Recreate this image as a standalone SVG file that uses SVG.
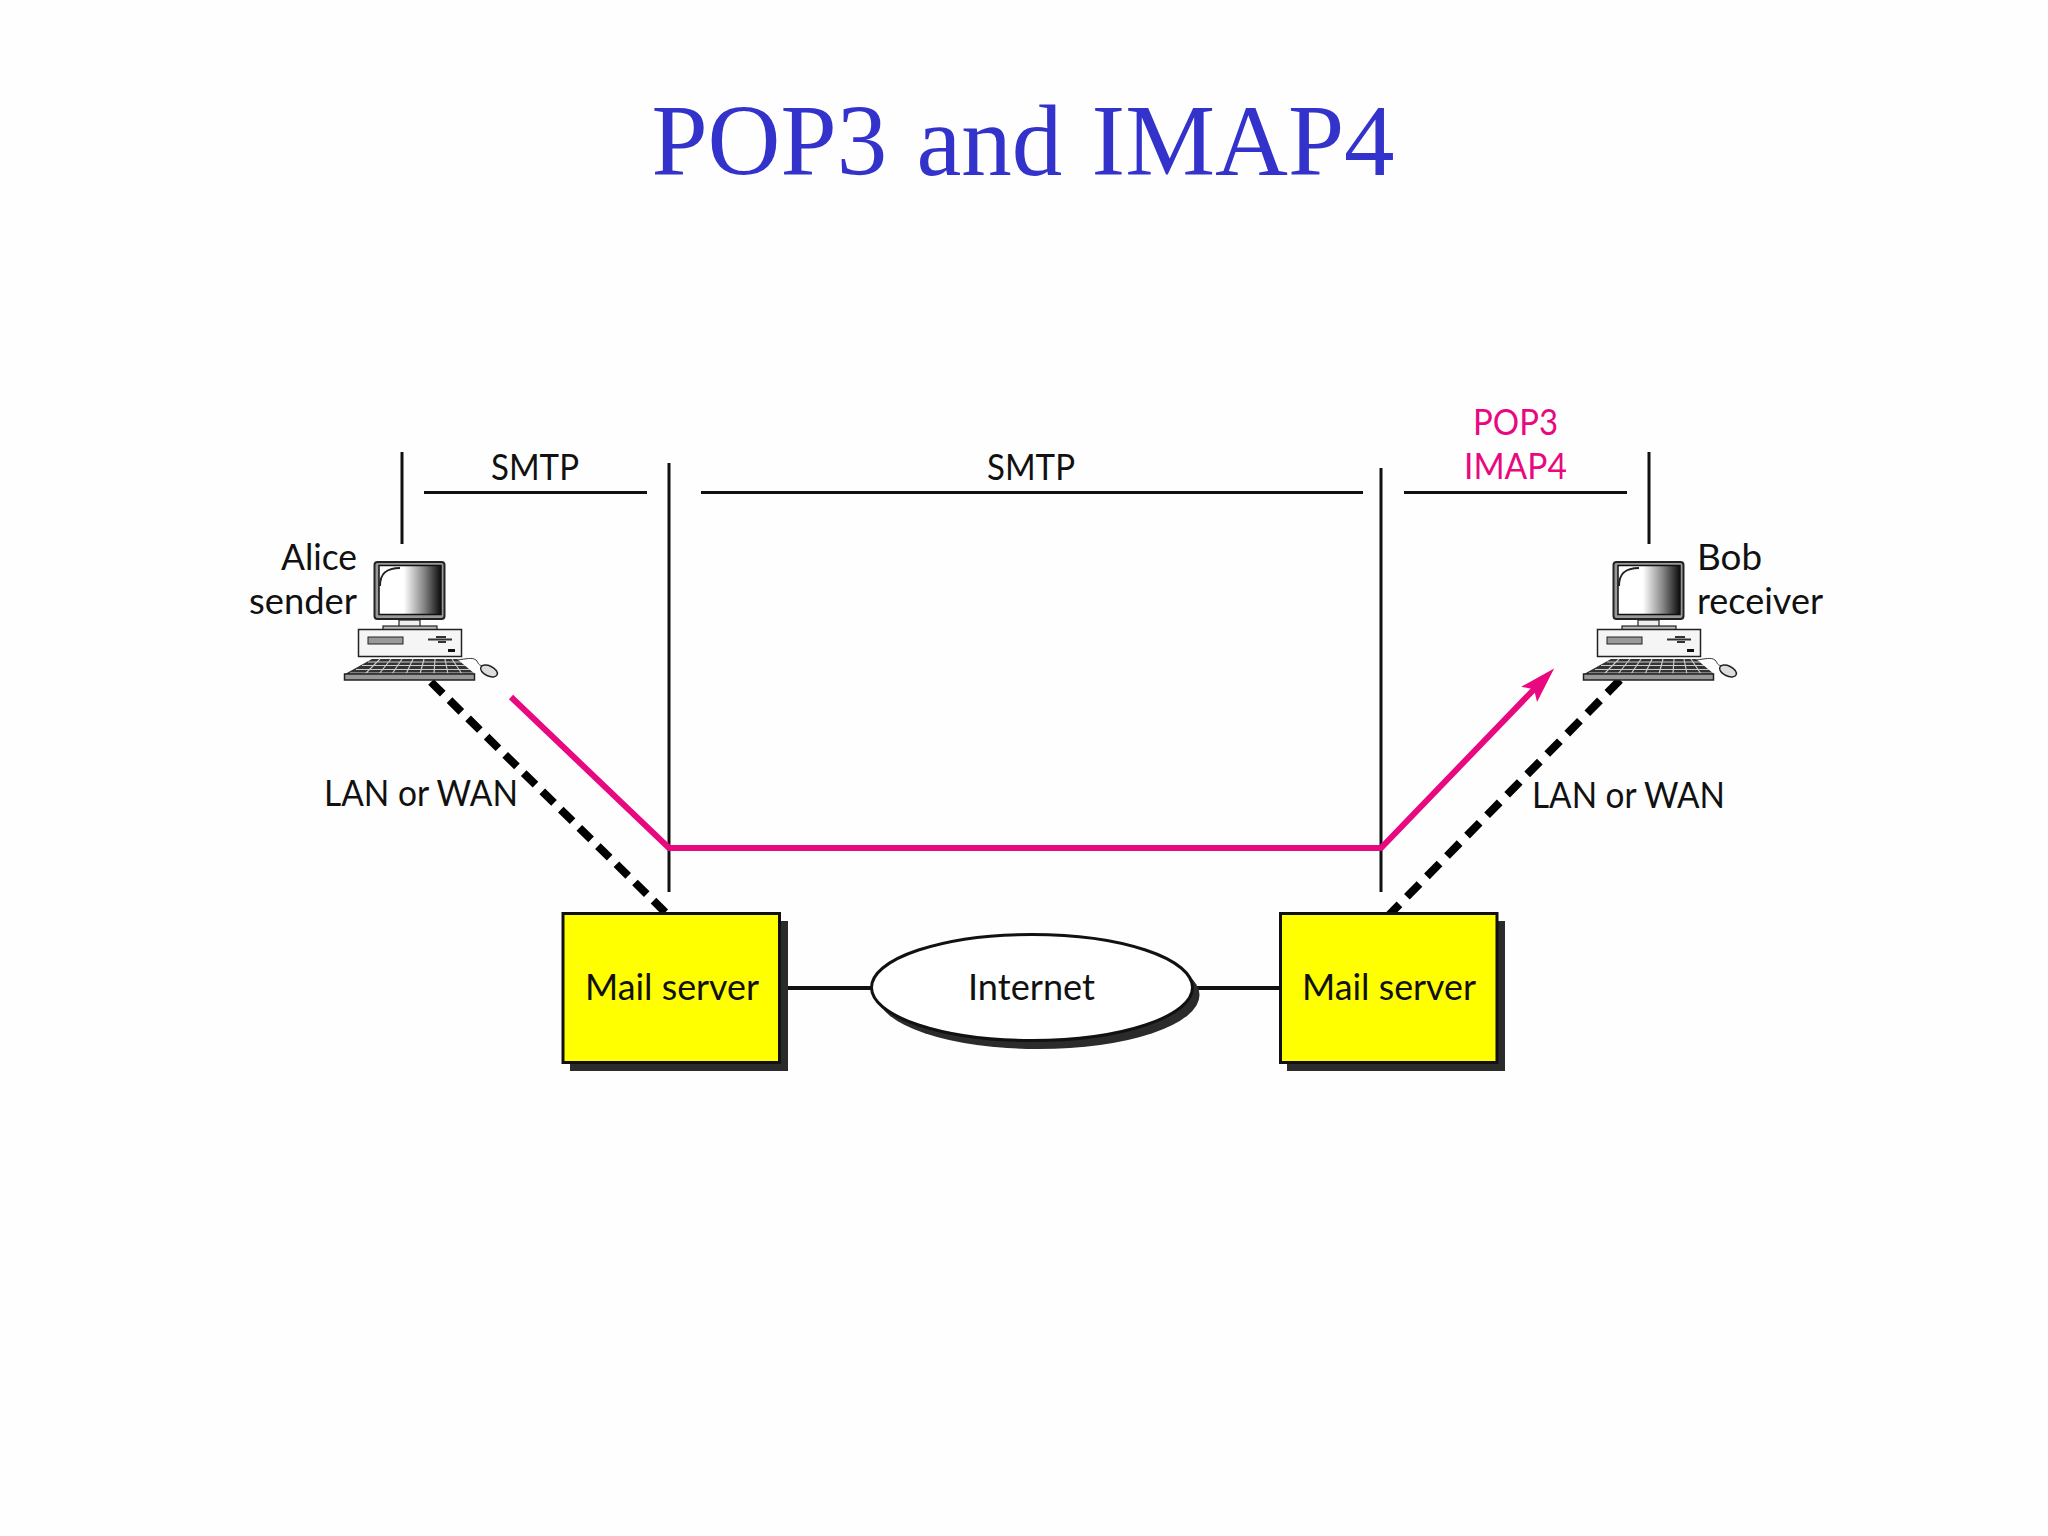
<svg xmlns="http://www.w3.org/2000/svg" width="2048" height="1536" viewBox="0 0 2048 1536">
<style>
text{font-family:Lato,"Noto Sans",sans-serif;font-size:36px;fill:#111}
.title{font-family:"Liberation Serif",serif;font-size:101px;word-spacing:4px;fill:#3333cc}
.pink{fill:#e8087f}
.thin{stroke:#111;stroke-width:3;fill:none}
.lan{stroke:#000;stroke-width:8;fill:none}
.mail{stroke:#e8087f;stroke-width:6;fill:none}
.link{stroke:#111;stroke-width:4;fill:none}
.shade{fill:#2b2b2b}
.box{fill:#ffff00;stroke:#111;stroke-width:3}
</style>
<defs>
<linearGradient id="screen" x1="0" x2="1" y1="0" y2="0">
<stop offset="0" stop-color="#fff"/><stop offset="0.4" stop-color="#fff"/><stop offset="0.72" stop-color="#888"/><stop offset="1" stop-color="#0c0c0c"/>
</linearGradient>
<marker id="arrow" markerUnits="userSpaceOnUse" markerWidth="40" markerHeight="30" refX="20" refY="15" orient="auto">
<path d="M36,15 L0,4 L7,15 L0,26 Z" fill="#e8087f"/>
</marker>
<g id="pc">
<rect x="374.500" y="562" width="70" height="57" rx="3" fill="#999" stroke="#222" stroke-width="2"/>
<rect x="379" y="565.500" width="62" height="49" fill="url(#screen)" stroke="#111" stroke-width="1.500"/>
<path d="M400,568 C388,568 380,572 380,586" fill="none" stroke="#222" stroke-width="2"/>
<rect x="399" y="620" width="21" height="7" fill="#eee" stroke="#222" stroke-width="1.200"/>
<rect x="383" y="626" width="54" height="4" fill="#bbb" stroke="#222" stroke-width="1.200"/>
<rect x="358.500" y="629.500" width="103" height="27" fill="#f5f5f5" stroke="#222" stroke-width="1.500"/>
<rect x="368" y="637" width="35" height="7" fill="#999" stroke="#222" stroke-width="1"/>
<path d="M428,639.500 H452 M436,637 H446 M438,642 H446" stroke="#333" stroke-width="2" fill="none"/>
<rect x="448" y="649" width="7" height="3" fill="#111"/>
<path d="M372,659 H457 L475,674 H345 Z" fill="#333"/>
<path d="M368,662 H461 M362,665.500 H465 M356,669.500 H470 M350,673 H474 M380,659 L365,674 M391,659 L379,674 M402,659 L392,674 M413,659 L406,674 M424,659 L420,674 M435,659 L434,674 M445,659 L448,674 M452,659 L462,674" stroke="#ccc" stroke-width="1.200" fill="none"/>
<rect x="344.500" y="674" width="130" height="6" fill="#999" stroke="#222" stroke-width="1.500"/>
<path d="M457,660 C466,659 472,657 476,660 C479,663 477,664 482,666" fill="none" stroke="#333" stroke-width="1"/>
<ellipse cx="489" cy="671" rx="9" ry="5" transform="rotate(25 489 671)" fill="#ddd" stroke="#222" stroke-width="1.500"/>
</g>
</defs>
<rect width="2048" height="1536" fill="#fefefe"/>
<text class="title" x="1023" y="175" text-anchor="middle">POP3 and IMAP4</text>
<g id="connectors">
<path class="thin" d="M402,452 V544 M669,463 V892 M1381,468 V892 M1649,452 V544 M424,492.500 H647 M701,492.500 H1363 M1404,492.500 H1627"/>
<path class="lan" stroke-dasharray="16.500 9.500" d="M431,682 L666,913"/>
<path class="lan" stroke-dasharray="18 10.600" d="M1620,680 L1388,916"/>
<path class="link" d="M788,988 H871 M1196,988 H1280"/>
<path class="mail" d="M511,697 L669,848 H1381 L1543,680" marker-end="url(#arrow)"/>
</g>
<g id="alice">
<use href="#pc"/>
<text x="357" y="570" text-anchor="end" textLength="76" lengthAdjust="spacingAndGlyphs">Alice</text>
<text x="357" y="614" text-anchor="end" textLength="108" lengthAdjust="spacingAndGlyphs">sender</text>
</g>
<g id="bob">
<use href="#pc" x="1239"/>
<text x="1697" y="570" textLength="65" lengthAdjust="spacingAndGlyphs">Bob</text>
<text x="1697" y="614" textLength="126" lengthAdjust="spacingAndGlyphs">receiver</text>
</g>
<g id="mail-server-left">
<rect class="shade" x="570" y="921" width="218" height="150"/>
<rect class="box" x="563" y="913.500" width="216.500" height="149"/>
<text x="585" y="1000" textLength="174" lengthAdjust="spacingAndGlyphs">Mail server</text>
</g>
<g id="internet">
<ellipse class="shade" cx="1038.500" cy="995" rx="161" ry="54"/>
<ellipse cx="1032" cy="987.500" rx="160.500" ry="53" fill="#fff" stroke="#111" stroke-width="3"/>
<text x="968" y="1000" textLength="127" lengthAdjust="spacingAndGlyphs">Internet</text>
</g>
<g id="mail-server-right">
<rect class="shade" x="1287" y="921" width="218" height="150"/>
<rect class="box" x="1280.500" y="913.500" width="216.500" height="149"/>
<text x="1302" y="1000" textLength="174" lengthAdjust="spacingAndGlyphs">Mail server</text>
</g>
<g id="labels">
<text x="491" y="480" textLength="88" lengthAdjust="spacingAndGlyphs">SMTP</text>
<text x="987" y="480" textLength="88" lengthAdjust="spacingAndGlyphs">SMTP</text>
<text class="pink" x="1473" y="435" textLength="85" lengthAdjust="spacingAndGlyphs">POP3</text>
<text class="pink" x="1464" y="479" textLength="103" lengthAdjust="spacingAndGlyphs">IMAP4</text>
<text x="324" y="806" textLength="194" lengthAdjust="spacingAndGlyphs">LAN or WAN</text>
<text x="1532" y="808" textLength="193" lengthAdjust="spacingAndGlyphs">LAN or WAN</text>
</g>
</svg>
